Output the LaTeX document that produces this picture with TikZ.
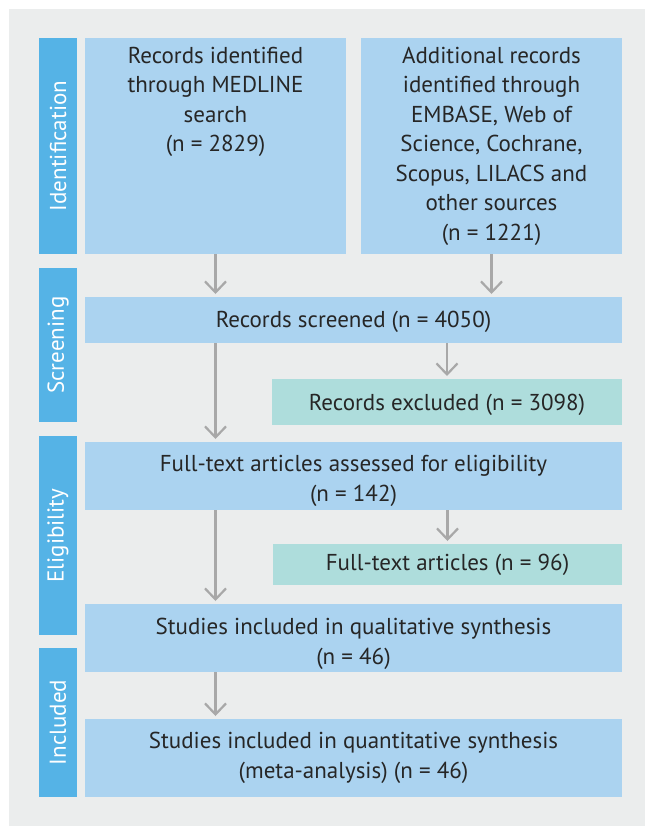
\documentclass[tikz,border=0pt]{standalone}
\usepackage{fontspec}
\setmainfont{PT Sans}
\usetikzlibrary{arrows.meta}
\definecolor{bggray}{HTML}{EBEDED}
\definecolor{boxblue}{HTML}{ABD3F0}
\definecolor{barblue}{HTML}{55B3E6}
\definecolor{boxgreen}{HTML}{AEDDDC}
\definecolor{arrowgray}{HTML}{A8A8A8}
\definecolor{txt}{HTML}{262626}
\tikzset{
  every node/.style={inner sep=0pt, outer sep=0pt, font=\fontsize{23}{29.5}\selectfont, text=txt},
  bluebox/.style={fill=boxblue, anchor=north west},
  greenbox/.style={fill=boxgreen, anchor=north west},
  phasebar/.style={fill=barblue, anchor=north west},
  phaselabel/.style={rotate=90, text=white, font=\fontsize{23}{28}\selectfont},
  flowarrow/.style={draw=arrowgray, line width=2.2pt, -{Straight Barb[length=11pt, width=21pt, line width=2.2pt]}, shorten >=3pt},
}
\begin{document}
\begin{tikzpicture}[x=1pt, y=-1pt]
\useasboundingbox (0,0) rectangle (645,826);
\fill[white] (0,0) rectangle (645,826);
\fill[bggray] (9,9) rectangle (645,826);
% phase bars
\node[phasebar, minimum width=38pt, minimum height=216pt] (idbar) at (39,38) {};
\node[phasebar, minimum width=38pt, minimum height=154pt] (scrbar) at (39,268) {};
\node[phasebar, minimum width=38pt, minimum height=199pt] (eligbar) at (39,436) {};
\node[phasebar, minimum width=38pt, minimum height=149pt] (inclbar) at (39,648) {};
\node[phaselabel] (idlab) at (idbar.center) {Identification};
\node[phaselabel] (scrlab) at (scrbar.center) {Screening};
\node[phaselabel] (eliglab) at (eligbar.center) {Eligibility};
\node[phaselabel] (incllab) at (inclbar.center) {Included};
% boxes
\node[bluebox, minimum width=261pt, minimum height=216pt] (medline) at (85,38) {};
\node[bluebox, minimum width=261pt, minimum height=216pt] (embase) at (361,38) {};
\node[bluebox, minimum width=537pt, minimum height=46pt] (screened) at (85,297) {};
\node[greenbox, minimum width=350pt, minimum height=46pt] (excluded) at (272,379) {};
\node[bluebox, minimum width=537pt, minimum height=68pt] (fulltext) at (85,442) {};
\node[greenbox, minimum width=349pt, minimum height=41pt] (ftexcl) at (273,544) {};
\node[bluebox, minimum width=537pt, minimum height=68pt] (qual) at (85,604) {};
\node[bluebox, minimum width=537pt, minimum height=78pt] (quant) at (85,719) {};
% texts
\node[anchor=north, align=center] (medlinetxt) at ([yshift=-9pt]medline.north) {Records identified\\through MEDLINE\\search\\(n = 2829)};
\node[anchor=north, align=center] (embasetxt) at ([yshift=-9pt]embase.north) {Additional records\\identified through\\EMBASE, Web of\\Science, Cochrane,\\Scopus, LILACS and\\other sources\\(n = 1221)};
\node (screenedtxt) at ([yshift=-2pt]screened.center) {Records screened (n = 4050)};
\node (excludedtxt) at ([yshift=-3pt]excluded.center) {Records excluded (n = 3098)};
\node[align=center] (fulltexttxt) at ([yshift=-5pt]fulltext.center) {Full-text articles assessed for eligibility\\(n = 142)};
\node (ftexcltxt) at (ftexcl.center) {Full-text articles (n = 96)};
\node[align=center] (qualtxt) at ([yshift=-6pt]qual.center) {Studies included in qualitative synthesis\\(n = 46)};
\node[align=center] (quanttxt) at (quant.center) {Studies included in quantitative synthesis\\(meta-analysis) (n = 46)};
% arrows
\draw[flowarrow] (medline.south) -- (medline.south |- screened.north);
\draw[flowarrow] (embase.south) -- (embase.south |- screened.north);
\draw[flowarrow] (screened.south -| excluded.north) -- (excluded.north);
\draw[flowarrow] (screened.south -| medline.south) -- (medline.south |- fulltext.north);
\draw[flowarrow] (fulltext.south -| ftexcl.north) -- (ftexcl.north);
\draw[flowarrow] (fulltext.south -| medline.south) -- (medline.south |- qual.north);
\draw[flowarrow] (qual.south -| medline.south) -- (medline.south |- quant.north);
\end{tikzpicture}
\end{document}
